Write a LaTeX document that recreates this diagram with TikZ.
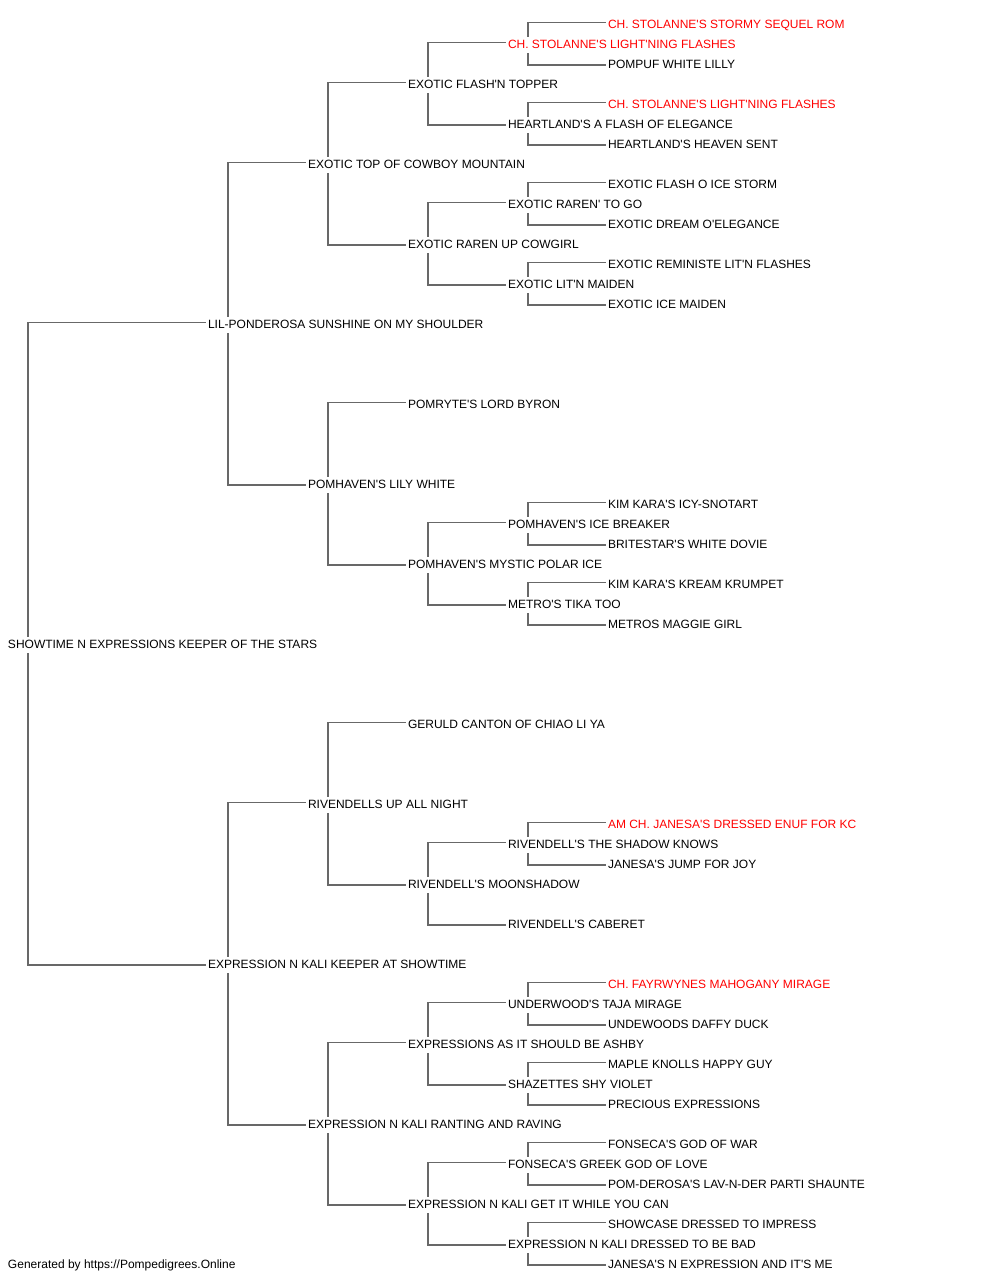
\documentclass[tikz,border=0pt]{standalone}
\usepackage{fontspec}
\setmainfont{Liberation Sans}[Ligatures=TeXOff]
\usetikzlibrary{calc}
\definecolor{linkgray}{HTML}{686868}
\definecolor{chred}{HTML}{FF0000}
\tikzset{
  dog/.style={anchor=west,inner sep=0pt,outer sep=0pt,font=\fontsize{12}{14}\selectfont,text height=8.6pt,text depth=0pt,text=black},
  champ/.style={dog,text=chred},
  link/.style={draw=linkgray,line width=1.25pt}
}
\newcommand\sirelink[2]{\draw[link] (#1.west) ++(20,-7.5) |- ([xshift=-2pt,yshift=1.5pt]#2.west);}
\newcommand\damlink[2]{\draw[link] (#1.west) ++(20,9.3) |- ([xshift=-2pt,yshift=-1pt]#2.west);}
\begin{document}
\begin{tikzpicture}[x=1pt,y=-1pt]
\useasboundingbox (0,0) rectangle (1000,1280);
\begin{scope}[yshift=-0.7pt]
% generation 0
\node[dog] (n31) at (8,643.3) {SHOWTIME N EXPRESSIONS KEEPER OF THE STARS};
% generation 1
\node[dog] (n15) at (208,323.3) {LIL-PONDEROSA SUNSHINE ON MY SHOULDER};
\node[dog] (n47) at (208,963.3) {EXPRESSION N KALI KEEPER AT SHOWTIME};
% generation 2
\node[dog] (n7) at (308,163.3) {EXOTIC TOP OF COWBOY MOUNTAIN};
\node[dog] (n23) at (308,483.3) {POMHAVEN'S LILY WHITE};
\node[dog] (n39) at (308,803.3) {RIVENDELLS UP ALL NIGHT};
\node[dog] (n55) at (308,1123.3) {EXPRESSION N KALI RANTING AND RAVING};
% generation 3
\node[dog] (n3) at (408,83.3) {EXOTIC FLASH'N TOPPER};
\node[dog] (n11) at (408,243.3) {EXOTIC RAREN UP COWGIRL};
\node[dog] (n19) at (408,403.3) {POMRYTE'S LORD BYRON};
\node[dog] (n27) at (408,563.3) {POMHAVEN'S MYSTIC POLAR ICE};
\node[dog] (n35) at (408,723.3) {GERULD CANTON OF CHIAO LI YA};
\node[dog] (n43) at (408,883.3) {RIVENDELL'S MOONSHADOW};
\node[dog] (n51) at (408,1043.3) {EXPRESSIONS AS IT SHOULD BE ASHBY};
\node[dog] (n59) at (408,1203.3) {EXPRESSION N KALI GET IT WHILE YOU CAN};
% generation 4
\node[champ] (n1) at (508,43.3) {CH. STOLANNE'S LIGHT'NING FLASHES};
\node[dog] (n5) at (508,123.3) {HEARTLAND'S A FLASH OF ELEGANCE};
\node[dog] (n9) at (508,203.3) {EXOTIC RAREN' TO GO};
\node[dog] (n13) at (508,283.3) {EXOTIC LIT'N MAIDEN};
\node[dog] (n25) at (508,523.3) {POMHAVEN'S ICE BREAKER};
\node[dog] (n29) at (508,603.3) {METRO'S TIKA TOO};
\node[dog] (n41) at (508,843.3) {RIVENDELL'S THE SHADOW KNOWS};
\node[dog] (n45) at (508,923.3) {RIVENDELL'S CABERET};
\node[dog] (n49) at (508,1003.3) {UNDERWOOD'S TAJA MIRAGE};
\node[dog] (n53) at (508,1083.3) {SHAZETTES SHY VIOLET};
\node[dog] (n57) at (508,1163.3) {FONSECA'S GREEK GOD OF LOVE};
\node[dog] (n61) at (508,1243.3) {EXPRESSION N KALI DRESSED TO BE BAD};
% generation 5
\node[champ] (n0) at (608,23.3) {CH. STOLANNE'S STORMY SEQUEL ROM};
\node[dog] (n2) at (608,63.3) {POMPUF WHITE LILLY};
\node[champ] (n4) at (608,103.3) {CH. STOLANNE'S LIGHT'NING FLASHES};
\node[dog] (n6) at (608,143.3) {HEARTLAND'S HEAVEN SENT};
\node[dog] (n8) at (608,183.3) {EXOTIC FLASH O ICE STORM};
\node[dog] (n10) at (608,223.3) {EXOTIC DREAM O'ELEGANCE};
\node[dog] (n12) at (608,263.3) {EXOTIC REMINISTE LIT'N FLASHES};
\node[dog] (n14) at (608,303.3) {EXOTIC ICE MAIDEN};
\node[dog] (n24) at (608,503.3) {KIM KARA'S ICY-SNOTART};
\node[dog] (n26) at (608,543.3) {BRITESTAR'S WHITE DOVIE};
\node[dog] (n28) at (608,583.3) {KIM KARA'S KREAM KRUMPET};
\node[dog] (n30) at (608,623.3) {METROS MAGGIE GIRL};
\node[champ] (n40) at (608,823.3) {AM CH. JANESA'S DRESSED ENUF FOR KC};
\node[dog] (n42) at (608,863.3) {JANESA'S JUMP FOR JOY};
\node[champ] (n48) at (608,983.3) {CH. FAYRWYNES MAHOGANY MIRAGE};
\node[dog] (n50) at (608,1023.3) {UNDEWOODS DAFFY DUCK};
\node[dog] (n52) at (608,1063.3) {MAPLE KNOLLS HAPPY GUY};
\node[dog] (n54) at (608,1103.3) {PRECIOUS EXPRESSIONS};
\node[dog] (n56) at (608,1143.3) {FONSECA'S GOD OF WAR};
\node[dog] (n58) at (608,1183.3) {POM-DEROSA'S LAV-N-DER PARTI SHAUNTE};
\node[dog] (n60) at (608,1223.3) {SHOWCASE DRESSED TO IMPRESS};
\node[dog] (n62) at (608,1263.3) {JANESA'S N EXPRESSION AND IT'S ME};
% footer
\node[dog] (footer) at (8,1263.3) {Generated by https://Pompedigrees.Online};
% connectors
\sirelink{n31}{n15} \damlink{n31}{n47}
\sirelink{n15}{n7} \damlink{n15}{n23}
\sirelink{n47}{n39} \damlink{n47}{n55}
\sirelink{n7}{n3} \damlink{n7}{n11}
\sirelink{n23}{n19} \damlink{n23}{n27}
\sirelink{n39}{n35} \damlink{n39}{n43}
\sirelink{n55}{n51} \damlink{n55}{n59}
\sirelink{n3}{n1} \damlink{n3}{n5}
\sirelink{n11}{n9} \damlink{n11}{n13}
\sirelink{n27}{n25} \damlink{n27}{n29}
\sirelink{n43}{n41} \damlink{n43}{n45}
\sirelink{n51}{n49} \damlink{n51}{n53}
\sirelink{n59}{n57} \damlink{n59}{n61}
\sirelink{n1}{n0} \damlink{n1}{n2}
\sirelink{n5}{n4} \damlink{n5}{n6}
\sirelink{n9}{n8} \damlink{n9}{n10}
\sirelink{n13}{n12} \damlink{n13}{n14}
\sirelink{n25}{n24} \damlink{n25}{n26}
\sirelink{n29}{n28} \damlink{n29}{n30}
\sirelink{n41}{n40} \damlink{n41}{n42}
\sirelink{n49}{n48} \damlink{n49}{n50}
\sirelink{n53}{n52} \damlink{n53}{n54}
\sirelink{n57}{n56} \damlink{n57}{n58}
\sirelink{n61}{n60} \damlink{n61}{n62}
\end{scope}
\end{tikzpicture}
\end{document}
